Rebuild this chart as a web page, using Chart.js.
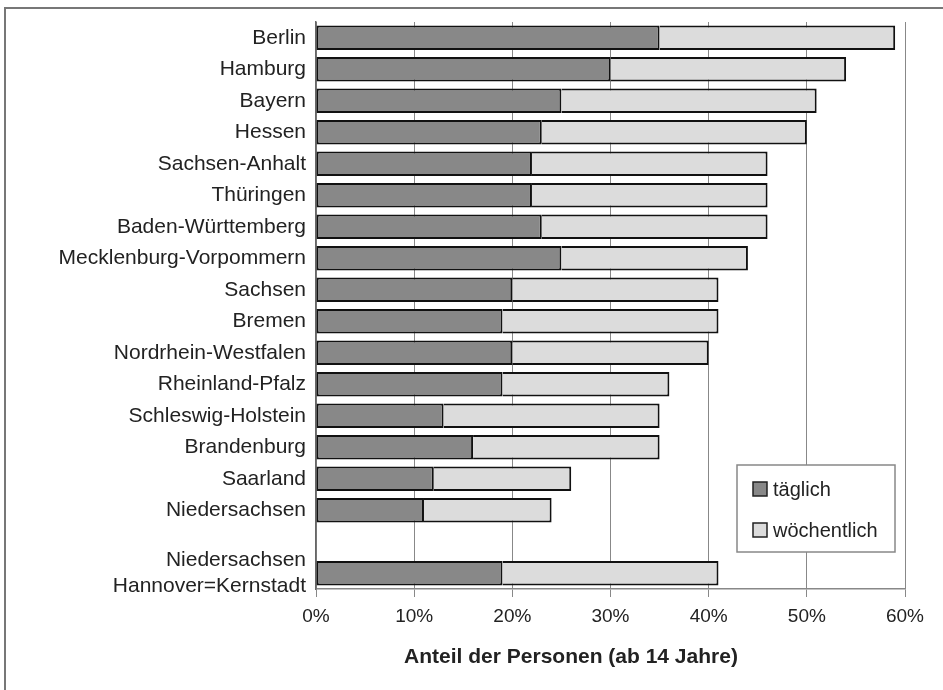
<!DOCTYPE html>
<html>
<head>
<meta charset="utf-8">
<script src="https://cdn.jsdelivr.net/npm/chart.js@4/dist/chart.umd.min.js"></script>
<style>
  html, body { margin: 0; padding: 0; background: #fff; }
  #wrap { position: relative; width: 943px; height: 690px; }
</style>
</head>
<body>
<div id="wrap"><canvas id="chart" width="943" height="690"></canvas></div>
<script>
// Daten (Anteil in %), von oben nach unten
const laender = [
    'Berlin', 'Hamburg', 'Bayern', 'Hessen', 'Sachsen-Anhalt', 'Thüringen',
    'Baden-Württemberg', 'Mecklenburg-Vorpommern', 'Sachsen', 'Bremen',
    'Nordrhein-Westfalen', 'Rheinland-Pfalz', 'Schleswig-Holstein', 'Brandenburg',
    'Saarland', 'Niedersachsen', '', ['Niedersachsen', 'Hannover=Kernstadt']
];
const taeglich    = [35, 30, 25, 23, 22, 22, 23, 25, 20, 19, 20, 19, 13, 16, 12, 11, null, 19];
const gesamt      = [59, 54, 51, 50, 46, 46, 46, 44, 41, 41, 40, 36, 35, 35, 26, 24, null, 41];
const woechentlich = gesamt.map((g, i) => g === null ? null : g - taeglich[i]);
const xTicks = [0, 10, 20, 30, 40, 50, 60];

const FONT = "'Liberation Sans', Arial, sans-serif";
const DUNKEL = '#888888';
const HELL = '#dcdcdc';

// Rahmen, Legende im Diagramm und Achsentitel
const extras = {
    id: 'extras',
    beforeDraw(chart) {
        const ctx = chart.ctx;
        ctx.save();
        ctx.strokeStyle = '#777';
        ctx.lineWidth = 2;
        ctx.beginPath();
        ctx.moveTo(5, 690);
        ctx.lineTo(5, 8);
        ctx.lineTo(943, 8);
        ctx.stroke();
        ctx.restore();
    },
    afterDraw(chart) {
        const ctx = chart.ctx;
        const a = chart.chartArea;
        ctx.save();
        // Legende
        const bx = a.right - 168, by = a.bottom - 124, bw = 158, bh = 87;
        ctx.fillStyle = '#fff';
        ctx.fillRect(bx, by, bw, bh);
        ctx.strokeStyle = '#888';
        ctx.lineWidth = 1.5;
        ctx.strokeRect(bx, by, bw, bh);
        ctx.font = '20px ' + FONT;
        ctx.textBaseline = 'middle';
        chart.data.datasets.forEach((ds, i) => {
            const cy = by + 24 + i * 41;
            ctx.fillStyle = ds.backgroundColor;
            ctx.fillRect(bx + 16, cy - 7, 14, 14);
            ctx.strokeStyle = '#222';
            ctx.lineWidth = 1.5;
            ctx.strokeRect(bx + 16, cy - 7, 14, 14);
            ctx.fillStyle = '#222';
            ctx.fillText(ds.label, bx + 36, cy + 1);
        });
        // Achsentitel
        ctx.font = 'bold 21px ' + FONT;
        ctx.textAlign = 'center';
        ctx.textBaseline = 'alphabetic';
        ctx.fillStyle = '#222';
        ctx.fillText('Anteil der Personen (ab 14 Jahre)', 571, 663);
        ctx.restore();
    }
};

new Chart(document.getElementById('chart'), {
    type: 'bar',
    data: {
        labels: laender,
        datasets: [
            {
                label: 'täglich',
                data: taeglich,
                backgroundColor: DUNKEL,
                borderColor: '#111',
                borderWidth: 2,
                borderSkipped: false,
                categoryPercentage: 0.77,
                barPercentage: 1
            },
            {
                label: 'wöchentlich',
                data: woechentlich,
                backgroundColor: HELL,
                borderColor: '#111',
                borderWidth: 2,
                borderSkipped: 'left',
                categoryPercentage: 0.77,
                barPercentage: 1
            }
        ]
    },
    options: {
        indexAxis: 'y',
        responsive: false,
        animation: false,
        layout: { padding: { top: 22, right: 38, left: 0, bottom: 0 } },
        plugins: {
            legend: { display: false },
            tooltip: { enabled: false }
        },
        scales: {
            x: {
                stacked: true,
                min: 0,
                max: 60,
                afterBuildTicks: s => { s.ticks = xTicks.map(v => ({ value: v })); },
                afterFit: s => { s.height = 101; s.paddingLeft = 0; s.paddingRight = 0; },
                grid: { color: '#888', lineWidth: 1, tickLength: 8 },
                border: { color: '#888', width: 1.5 },
                ticks: {
                    callback: v => v + '%',
                    color: '#222',
                    padding: 8,
                    maxRotation: 0,
                    font: { family: FONT, size: 19 }
                }
            },
            y: {
                stacked: true,
                afterFit: s => { s.width = 316; s.paddingTop = 0; s.paddingBottom = 0; },
                grid: { display: false, drawTicks: false },
                border: { color: '#666', width: 1.5 },
                ticks: {
                    color: '#222',
                    padding: 10,
                    autoSkip: false,
                    font: { family: FONT, size: 21 }
                }
            }
        }
    },
    plugins: [extras]
});
</script>
</body>
</html>
